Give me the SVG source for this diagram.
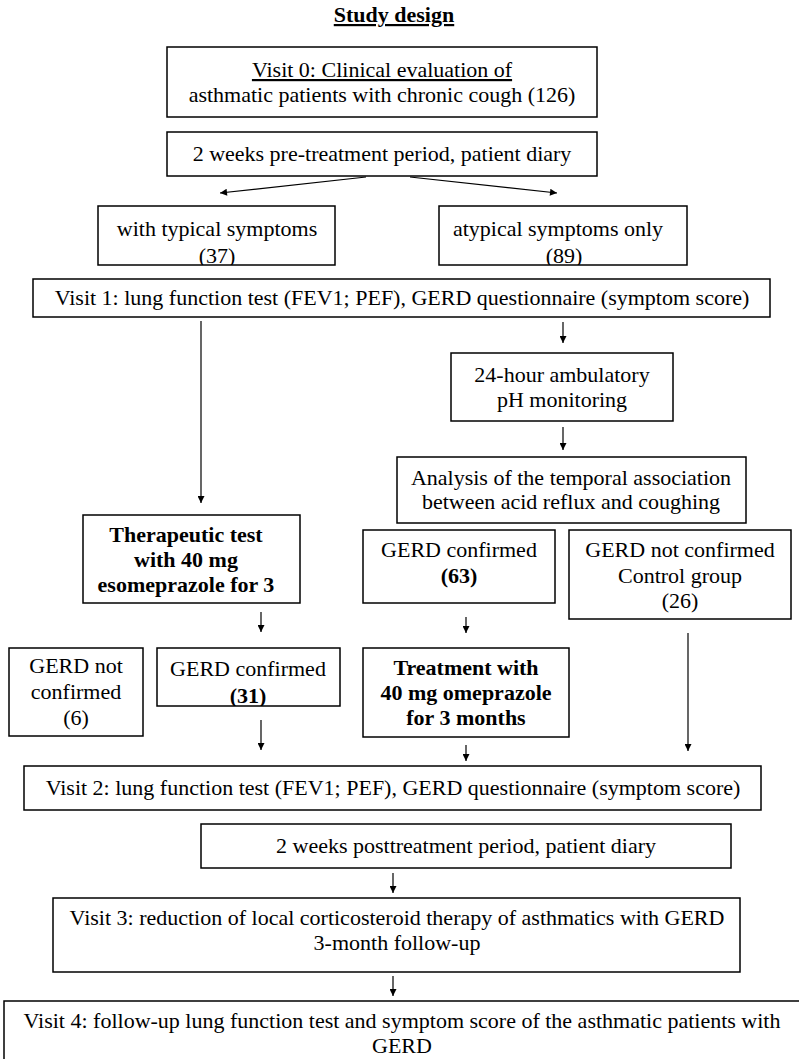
<svg xmlns="http://www.w3.org/2000/svg" width="799" height="1059" viewBox="0 0 799 1059">
<style>
.b{fill:#fff;stroke:#000;stroke-width:1.5}
text{font-family:"Liberation Serif","Times New Roman",serif;font-size:22px;fill:#000;text-anchor:middle}
.bd{font-weight:bold}
.c{stroke:#000;stroke-width:1.2;fill:none;marker-end:url(#ah)}
</style>
<defs>
<marker id="ah" viewBox="0 0 10 10" refX="10" refY="5" markerWidth="8" markerHeight="7" markerUnits="userSpaceOnUse" orient="auto">
<path d="M0,0 L10,5 L0,10 z" fill="#000"/>
</marker>
<clipPath id="clipT"><rect x="98" y="206" width="237" height="59"/></clipPath>
<clipPath id="clipA"><rect x="439" y="206" width="248" height="59"/></clipPath>
<clipPath id="clipC"><rect x="157" y="648" width="183" height="58"/></clipPath>
</defs>
<text id="title" x="394" y="22" class="bd" text-decoration="underline">Study design</text>
<g id="visit0"><rect class="b" x="167" y="47" width="430" height="70"/>
<text x="382" y="77" text-decoration="underline">Visit 0: Clinical evaluation of</text>
<text x="382" y="102">asthmatic patients with chronic cough (126)</text></g>
<g id="pre"><rect class="b" x="167" y="132" width="430" height="44"/>
<text x="382" y="161">2 weeks pre-treatment period, patient diary</text></g>
<g id="typical"><rect class="b" x="98" y="206" width="237" height="59"/>
<g clip-path="url(#clipT)"><text x="217" y="236">with typical symptoms</text>
<text x="217" y="263">(37)</text></g></g>
<g id="atypical"><rect class="b" x="439" y="206" width="248" height="59"/>
<g clip-path="url(#clipA)"><text x="558" y="236">atypical symptoms only</text>
<text x="564" y="263">(89)</text></g></g>
<g id="visit1"><rect class="b" x="33" y="279" width="737" height="38"/>
<text x="402" y="305">Visit 1: lung function test (FEV1; PEF), GERD questionnaire (symptom score)</text></g>
<g id="ph"><rect class="b" x="451" y="353" width="222" height="68"/>
<text x="562" y="382">24-hour ambulatory</text>
<text x="562" y="407">pH monitoring</text></g>
<g id="analysis"><rect class="b" x="397" y="457" width="349" height="66"/>
<text x="571" y="485">Analysis of the temporal association</text>
<text x="571" y="509">between acid reflux and coughing</text></g>
<g id="therapeutic"><rect class="b" x="83" y="515" width="217" height="88"/>
<text class="bd" x="186" y="542">Therapeutic test</text>
<text class="bd" x="186" y="567">with 40 mg</text>
<text class="bd" x="186" y="592">esomeprazole for 3</text></g>
<g id="confirmed63"><rect class="b" x="363" y="530" width="192" height="73"/>
<text x="459" y="557">GERD confirmed</text>
<text class="bd" x="459" y="583">(63)</text></g>
<g id="control"><rect class="b" x="569" y="530" width="222" height="89"/>
<text x="680" y="557">GERD not confirmed</text>
<text x="680" y="583">Control group</text>
<text x="680" y="608">(26)</text></g>
<g id="notconfirmed6"><rect class="b" x="9" y="648" width="134" height="88"/>
<text x="76" y="673">GERD not</text>
<text x="76" y="699">confirmed</text>
<text x="76" y="725">(6)</text></g>
<g id="confirmed31"><rect class="b" x="157" y="648" width="183" height="58"/>
<g clip-path="url(#clipC)"><text x="248" y="676">GERD confirmed</text>
<text class="bd" x="248" y="703">(31)</text></g></g>
<g id="treatment"><rect class="b" x="363" y="648" width="206" height="89"/>
<text class="bd" x="466" y="675">Treatment with</text>
<text class="bd" x="466" y="700">40 mg omeprazole</text>
<text class="bd" x="466" y="725">for 3 months</text></g>
<g id="visit2"><rect class="b" x="24" y="766" width="737" height="44"/>
<text x="393" y="795">Visit 2: lung function test (FEV1; PEF), GERD questionnaire (symptom score)</text></g>
<g id="post"><rect class="b" x="201" y="824" width="530" height="44"/>
<text x="466" y="853">2 weeks posttreatment period, patient diary</text></g>
<g id="visit3"><rect class="b" x="53" y="898" width="687" height="74"/>
<text x="397" y="925">Visit 3: reduction of local corticosteroid therapy of asthmatics with GERD</text>
<text x="397" y="950">3-month follow-up</text></g>
<g id="visit4"><rect class="b" x="4" y="1001" width="802" height="70"/>
<text x="402" y="1028">Visit 4: follow-up lung function test and symptom score of the asthmatic patients with</text>
<text x="402" y="1053">GERD</text></g>
<g id="connectors">
<line class="c" x1="366" y1="177" x2="220" y2="193"/>
<line class="c" x1="410" y1="177" x2="557" y2="193"/>
<line class="c" x1="201" y1="321" x2="201" y2="503"/>
<line class="c" x1="563" y1="322" x2="563" y2="343"/>
<line class="c" x1="563" y1="427" x2="563" y2="450"/>
<line class="c" x1="261" y1="612" x2="261" y2="632"/>
<line class="c" x1="466" y1="617" x2="466" y2="633"/>
<line class="c" x1="688" y1="633" x2="688" y2="751"/>
<line class="c" x1="261" y1="720" x2="261" y2="750"/>
<line class="c" x1="466" y1="745" x2="466" y2="761"/>
<line class="c" x1="393" y1="873" x2="393" y2="893"/>
<line class="c" x1="393" y1="976" x2="393" y2="996"/>
</g>
</svg>
